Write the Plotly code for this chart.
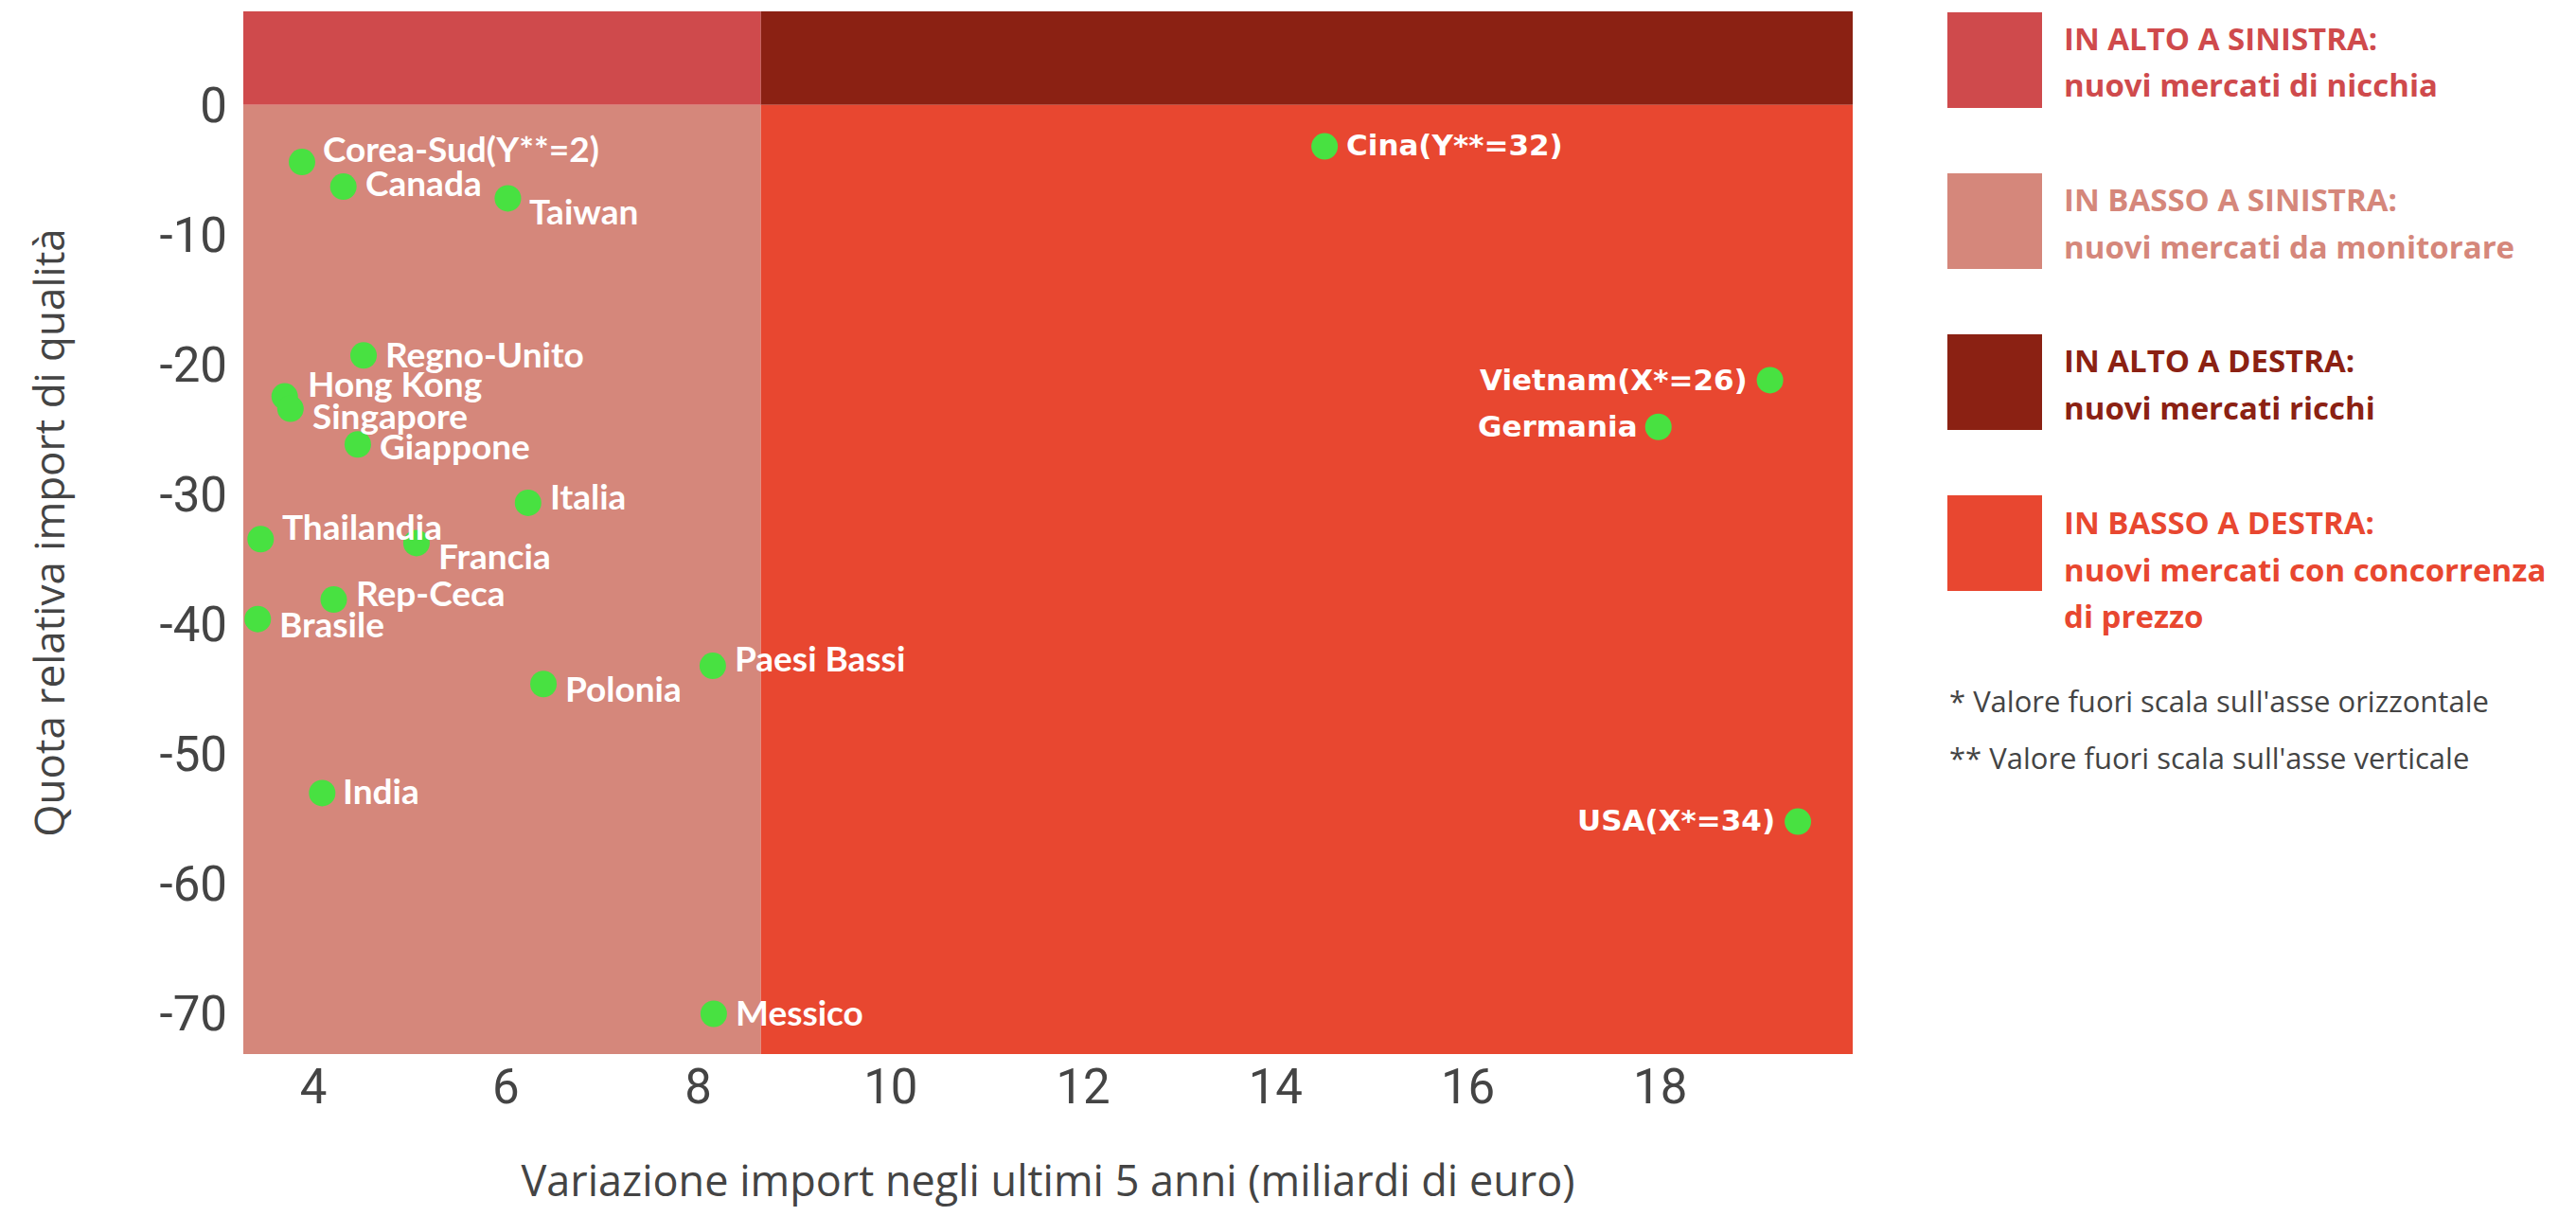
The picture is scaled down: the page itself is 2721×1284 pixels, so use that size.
import plotly.graph_objects as go

# ---------------- data ----------------
countries = ["Corea-Sud(Y**=2)", "Canada", "Taiwan", "Regno-Unito", "Hong Kong",
             "Singapore", "Giappone", "Italia", "Thailandia", "Francia",
             "Rep-Ceca", "Brasile", "Paesi Bassi", "Polonia", "India",
             "Messico", "Cina(Y**=32)", "Vietnam(X*=26)", "Germania", "USA(X*=34)"]
x_values = [3.88, 4.31, 6.02, 4.52, 3.70, 3.76, 4.46, 6.23, 3.45, 5.07,
            4.21, 3.42, 8.15, 6.39, 4.09, 8.16, 14.51, 19.14, 17.98, 19.43]
y_values = [-4.4, -6.3, -7.2, -19.3, -22.45, -23.4, -26.15, -30.65, -33.45, -33.75,
            -38.1, -39.6, -43.2, -44.6, -53.0, -70.0, -3.2, -21.2, -24.8, -55.2]
x_threshold = 8.65
y_threshold = 0
x_ticks = [4, 6, 8, 10, 12, 14, 16, 18]
x_tick_labels = ["4", "6", "8", "10", "12", "14", "16", "18"]
y_ticks = [0, -10, -20, -30, -40, -50, -60, -70]
y_tick_labels = ["0", "-10", "-20", "-30", "-40", "-50", "-60", "-70"]
legend_titles = ["IN ALTO A SINISTRA:", "IN BASSO A SINISTRA:",
                 "IN ALTO A DESTRA:", "IN BASSO A DESTRA:"]
legend_texts = [["nuovi mercati di nicchia"], ["nuovi mercati da monitorare"],
                ["nuovi mercati ricchi"], ["nuovi mercati con concorrenza", "di prezzo"]]
footnotes = ["* Valore fuori scala sull'asse orizzontale",
             "** Valore fuori scala sull'asse verticale"]
x_title = "Variazione import negli ultimi 5 anni (miliardi di euro)"
y_title = "Quota relativa import di qualità"

# ---------------- style ----------------
OFF = 8  # page body margin
W, H = 2721 - 2 * OFF, 1284 - 2 * OFF
PL, PR, PT, PB = 257, 1957, 12, 1113  # plot box in screen pixels
ML, MT = PL - OFF, PT - OFF
MR = W - (PR - OFF)
MB = H - (PB - OFF)
XR = [3.27, 20.0]
YR = [-73.1, 7.2]
C_TL = "#CF4A4C"
C_BL = "#D5877B"
C_TR = "#8B2113"
C_BR = "#E84730"
GREEN = "#48E141"
TXT = "#444444"
quad_colors = [C_TL, C_BL, C_TR, C_BR]
TICK_FONT = "Roboto, Lato"

# label offsets (px): dx from marker centre, dy (up positive); negative dx -> label left of marker
label_dx = [21, 22, 22, 22, 23, 22, 22, 22, 22, 22, 22, 22, 22, 22, 21, 22, 22, -23, -21, -23]
label_dy = [15, 5, -13, 2, 14, -7, -1, 7, 14, -13, 8, -5, 9, -4, 3, 2, 2, 0, 1, 2]
right_side_font = [False] * 16 + [True] * 4

PW = PR - PL
PH = PB - PT


def px(xp):
    return (xp - PL) / PW


def py(yp):
    return (PB - yp) / PH


fig = go.Figure()

fig.add_trace(go.Scatter(
    x=x_values, y=y_values, mode="markers",
    marker=dict(size=28, color=GREEN, line=dict(width=0)),
    hoverinfo="text", text=countries, showlegend=False,
))

# quadrants
quads = [
    (XR[0], x_threshold, y_threshold, YR[1], C_TL),
    (XR[0], x_threshold, YR[0], y_threshold, C_BL),
    (x_threshold, XR[1], y_threshold, YR[1], C_TR),
    (x_threshold, XR[1], YR[0], y_threshold, C_BR),
]
shapes = []
for x0, x1, y0, y1, c in quads:
    shapes.append(dict(type="rect", xref="x", yref="y", x0=x0, x1=x1, y0=y0, y1=y1,
                       fillcolor=c, line=dict(width=0), layer="below"))

annotations = []
for name, xv, yv, dx, dy, rs in zip(countries, x_values, y_values, label_dx, label_dy, right_side_font):
    annotations.append(dict(
        x=xv, y=yv, xref="x", yref="y", text="<b>%s</b>" % name, showarrow=False,
        xanchor="left" if dx > 0 else "right", yanchor="middle",
        xshift=dx, yshift=dy, borderpad=0,
        font=dict(family="DejaVu Sans" if rs else "Lato", size=31 if rs else 37, color="white"),
    ))

# legend boxes
box_tops = [13, 183, 353, 523]
line_y = [[40, 89], [210, 260], [381, 430], [551, 601, 650]]
for i in range(4):
    t = box_tops[i]
    shapes.append(dict(type="rect", xref="paper", yref="paper",
                       x0=px(2057), x1=px(2157), y0=py(t + 101), y1=py(t),
                       fillcolor=quad_colors[i], line=dict(width=0)))
    lines = [legend_titles[i]] + legend_texts[i]
    for txt, yy in zip(lines, line_y[i]):
        annotations.append(dict(
            x=px(2178), y=py(yy), xref="paper", yref="paper", text="<b>%s</b>" % txt,
            showarrow=False, xanchor="left", yanchor="middle",
            font=dict(family="Open Sans", size=33, color=quad_colors[i]),
        ))
for txt, yy in zip(footnotes, [740, 800]):
    annotations.append(dict(
        x=px(2057), y=py(yy), xref="paper", yref="paper", text=txt,
        showarrow=False, xanchor="left", yanchor="middle",
        font=dict(family="Open Sans", size=31, color=TXT),
    ))

fig.update_layout(
    width=W, height=H,
    margin=dict(l=ML, r=MR, t=MT, b=MB),
    paper_bgcolor="white", plot_bgcolor="white",
    shapes=shapes, annotations=annotations,
    xaxis=dict(range=XR, tickvals=x_ticks, ticktext=x_tick_labels, showgrid=False,
               zeroline=False, showline=False, automargin=False,
               ticks="", tickfont=dict(family=TICK_FONT, size=51, color=TXT),
               title=dict(text=x_title, font=dict(family="Open Sans", size=45, color=TXT), standoff=78)),
    yaxis=dict(range=YR, tickvals=y_ticks, ticktext=y_tick_labels, showgrid=False,
               zeroline=False, showline=False, ticklabelstandoff=16, automargin=False,
               ticks="", tickfont=dict(family=TICK_FONT, size=51, color=TXT),
               title=dict(text=y_title, font=dict(family="Open Sans", size=44, color=TXT), standoff=86)),
)

fig.write_html("out.html")
